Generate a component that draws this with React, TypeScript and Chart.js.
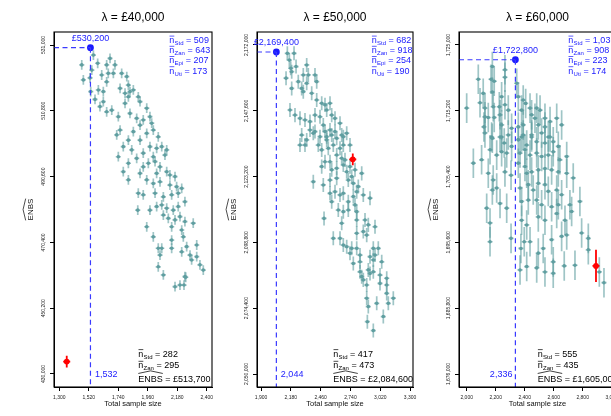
import React, { useEffect, useRef } from "react";
import { Chart, registerables } from "chart.js";

Chart.register(...registerables);

const FONT = '"Liberation Sans", Arial, Helvetica, sans-serif';
const TEAL = "#5F9EA0";
const TEAL_BAR = "rgba(95,158,160,0.6)";
const BLUE = "#1a1aff";
const DASH_BLUE = "#3a3aff";
const RED = "#ff0000";

// ---------------- Panel 1: λ = £40,000 ----------------
const p1Title = "λ = £40,000";
const p1XTicks = [1300, 1520, 1740, 1960, 2180, 2400];
const p1YTicks = [430000, 450200, 470400, 490600, 510800, 531000];
const p1XRange = [1260, 2439];
const p1YRange = [426000, 535000];
const p1ErrHalf = 1500;
const p1Optimum = [1532, 530200];
const p1Red = [1355, 433800];
const p1RedErr = 1800;
const p1TopLegend = [["Std", "509"], ["Zan", "643"], ["Epi", "207"], ["Uti", "173"]];
const p1BottomN = [["Std", "282"], ["Zan", "295"]];
const p1BottomEnbs = "£513,700";
const p1Points: number[][] = [
  [1467,524900],[1479,520300],[1554,527900],[1586,525400],[1542,523300],[1529,520900],[1534,516700],[1566,514300],[1591,517200],[1616,521800],[1603,512100],[1628,513600],
  [1678,526900],[1653,524900],[1715,524900],[1665,522300],[1703,522300],[1628,516700],[1653,519700],[1765,522300],[1803,521300],[1753,517700],[1815,518700],[1827,516700],[1790,516200],[1815,515100],[1852,517200],[1889,515100],[1902,513600],[1790,513100],[1653,510500],[1691,511000],[1740,509000],[1827,510000],[1877,508500],[1952,511600],[1926,508000],[1976,509000],[1989,507000],[1902,506400],[1852,504400],[1753,504900],[1728,503400],[1815,501800],[1777,499800],[1740,496700],[1840,498800],[1902,501800],[1952,503900],[2001,504900],[2038,502800],[1976,499800],[1926,497800],[2026,499300],[2064,499800],[2101,498800],[2088,497200],[2001,496700],[1877,496200],
  [1815,494700],[1777,492100],[1815,489600],[1902,491600],[1926,493600],[1964,494700],[2014,495200],[2051,493600],[2026,491600],[2101,492100],[2125,491100],[2163,490600],[1952,489600],[2001,488500],[2051,489000],[2125,488000],[2175,487500],[2213,487000],[1889,485500],[1926,485000],[2014,485500],[2076,484400],[2138,485000],[2187,485500],[2237,482900],[1885,480300],[1976,480300],[2026,481400],[2064,481900],[2101,480900],[2150,480300],[2187,481400],[2076,478800],[2113,477800],[2163,477300],[2200,478300],[2237,476800],[2299,476300],[1952,475200],[2138,475200],[2213,474200],[2001,472100],[2138,471100],[2225,472100],[2038,468600],[2064,468600],[2138,468600],[2051,466500],[2213,467500],[2250,469100],[2325,469600],[2275,466500],[2287,465000],[2325,466000],[2076,460400],[2038,462900],[2237,459900],[2374,461900],[2349,463500],[2163,456800],[2200,457300],[2230,457300],[2243,459700]
];

// ---------------- Panel 2: λ = £50,000 ----------------
const p2Title = "λ = £50,000";
const p2XTicks = [1900, 2180, 2460, 2740, 3020, 3300];
const p2YTicks = [2050000, 2074400, 2098800, 2123200, 2147600, 2172000];
const p2XRange = [1862, 3328];
const p2YRange = [2045180, 2176820];
const p2ErrHalf = 2600;
const p2Optimum = [2044, 2169400];
const p2Red = [2762, 2129600];
const p2RedErr = 2200;
const p2TopLegend = [["Std", "682"], ["Zan", "918"], ["Epi", "254"], ["Uti", "190"]];
const p2BottomN = [["Std", "417"], ["Zan", "473"]];
const p2BottomEnbs = "£2,084,600";
const p2Points: number[][] = [
  [2147,2168900],[2210,2168900],[2166,2166400],[2179,2163400],[2229,2164000],[2135,2159700],[2188,2162100],[2329,2164600],[2297,2160900],[2344,2160900],[2407,2160900],[2188,2155900],[2250,2158400],[2282,2155900],[2329,2157800],[2297,2154700],[2423,2158400],[2376,2154100],[2423,2151600],[2470,2150400],[2501,2149800],[2517,2147900],[2172,2147900],[2219,2146000],[2266,2144800],[2313,2144200],[2360,2143600],[2407,2146000],[2454,2145400],[2548,2150400],[2564,2146000],[2595,2144800],[2642,2143000],[2485,2142300],[2407,2139900],[2360,2140500],[2548,2140500],[2595,2139900],[2517,2138000],[2673,2138000],
  [2282,2138600],[2329,2136800],[2266,2134900],[2313,2134900],[2391,2139300],[2454,2138000],[2501,2139900],[2517,2136800],[2564,2138600],[2611,2137400],[2658,2138600],[2705,2139300],[2438,2134900],[2470,2133100],[2532,2133700],[2579,2134900],[2642,2133700],[2673,2134900],[2736,2134900],[2611,2131200],[2658,2130000],[2689,2129400],[2548,2128700],[2501,2128700],[2470,2126900],[2564,2125700],[2611,2126300],[2673,2127500],[2736,2126900],[2783,2125700],[2846,2124400],[2705,2125000],[2391,2121300],[2485,2120100],[2548,2121900],[2611,2122600],[2752,2123200],[2720,2121900],[2767,2120700],[2799,2117600],[2814,2119500],[2548,2117000],[2595,2117600],[2642,2116400],[2673,2117000],[2767,2115800],[2861,2116400],[2924,2115200],[2564,2113900],[2626,2110800],[2673,2110200],[2720,2110800],[2783,2112700],[2799,2110200],[2720,2113900],[2492,2107700],[2658,2105900],[2799,2107100],[2877,2107100],[2908,2105300],[2971,2104600],[2799,2102200],[2861,2102800],[2893,2101500],[2579,2100300],[2642,2100300],[2673,2097800],[2705,2097200],[2752,2096600],[2799,2096600],[2955,2096600],[3002,2096600],[2736,2094800],[2830,2094100],[2924,2093500],[2971,2094100],[2955,2092300],[3034,2091600],[2767,2091000],[2830,2091600],[2908,2088600],[2955,2087900],[3018,2086700],[2846,2086100],[3081,2085500],
  [2830,2087900],[2861,2084900],[2893,2083000],[2924,2087300],[3018,2083600],[3081,2083000],[2893,2078100],[2987,2076200],[2908,2075000],[3081,2079900],[3096,2076200],[3143,2078100],[3049,2071300],[2899,2069400],[2955,2066100]
];

// ---------------- Panel 3: λ = £60,000 ----------------
const p3Title = "λ = £60,000";
const p3XTicks = [2000, 2200, 2400, 2600, 2800, 3000];
const p3YTicks = [1676000, 1685800, 1695600, 1705400, 1715200, 1725000];
const p3XRange = [1947, 3030];
const p3YRange = [1674064, 1726936];
const p3ErrHalf = 2200;
const p3Optimum = [2336, 1722800];
const p3Red = [2892, 1692100];
const p3RedErr = 2400;
const p3TopLegend = [["Std", "1,031"], ["Zan", "908"], ["Epi", "223"], ["Uti", "174"]];
const p3BottomN = [["Std", "555"], ["Zan", "435"]];
const p3BottomEnbs = "£1,605,000";
const p3Points: number[][] = [
  [2177,1721800],[2264,1721300],[2080,1719900],[2168,1719900],[2190,1719600],[2264,1720200],[2345,1719300],[2114,1717800],[2177,1718000],[2241,1717300],[2356,1717300],[2390,1716800],[2000,1715600],[2092,1716400],[2126,1715600],[2183,1715800],[2225,1715800],[2264,1716100],[2287,1715300],[2126,1714300],[2149,1714200],[2190,1714200],[2230,1714600],[2379,1715300],[2407,1716300],[2437,1715600],[2483,1715600],[2506,1715300],[2448,1714600],[2471,1714100],[2540,1714100],[2575,1713600],[2621,1714100],[2655,1713100],[2119,1712800],[2241,1713100],[2310,1712600],[2356,1712800],[2390,1713100],[2494,1713100],[2540,1712800],[2172,1711300],[2241,1711300],[2379,1711300],[2448,1711600],[2517,1711900],[2563,1711300],
  [2046,1707400],[2103,1707900],[2126,1711900],[2177,1711100],[2230,1711300],[2259,1710400],[2287,1711600],[2310,1709900],[2356,1710900],[2390,1711600],[2414,1710100],[2448,1711300],[2483,1710600],[2540,1710400],[2575,1711300],[2597,1710600],[2632,1709900],[2161,1709400],[2207,1708600],[2241,1709100],[2276,1708900],[2368,1708900],[2402,1709400],[2437,1708600],[2483,1708900],[2517,1708400],[2563,1708600],[2597,1709100],[2643,1707900],[2690,1708400],[2149,1705900],[2183,1704900],[2264,1706100],[2306,1705600],[2356,1707400],[2402,1706900],[2414,1705900],[2448,1706100],[2494,1706400],[2540,1706600],[2586,1706400],[2632,1706100],[2690,1705900],[2735,1705200],[2207,1703700],[2177,1703400],[2368,1703700],[2425,1704200],[2459,1703400],[2494,1704400],[2540,1704200],[2563,1703200],[2621,1703400],[2655,1702700],[2138,1700700],[2230,1701400],[2276,1700700],[2379,1701700],[2425,1701900],[2483,1701900],[2517,1701200],[2586,1700900],[2632,1701200],[2712,1701200],[2781,1701700],[2161,1698500],[2379,1698900],[2414,1698200],[2494,1699400],[2540,1698900],[2621,1699900],[2678,1698900],[2724,1700200],[2161,1695700],[2306,1696200],[2397,1695700],[2437,1695700],[2586,1696000],[2655,1696500],[2690,1696700],[2793,1697000],[2839,1696200],[2374,1694700],[2494,1694000],[2528,1694700],[2597,1692700],[2673,1692100],[2747,1692200],[2414,1692000],[2483,1691800],[2368,1691500],[2839,1694500],[2915,1691200],
  [2540,1691200],[2597,1691000],[2947,1689600]
];

// ---------------- layout ----------------
const CANVAS_W = 222;
const CANVAS_H = 416;

type Spec = {
  title: string;
  xTicks: number[];
  yTicks: number[];
  xRange: number[];
  yRange: number[];
  points: number[][];
  err: number;
  opt: number[];
  red: number[];
  redErr: number;
  topLegend: string[][];
  bottomN: string[][];
  bottomEnbs: string;
  canvasLeft: number;
  boxRight: number;
  legendDx: number;
  bottomDx: number;
  labelSide: "left" | "right";
};

const specs: Spec[] = [
  { title: p1Title, xTicks: p1XTicks, yTicks: p1YTicks, xRange: p1XRange, yRange: p1YRange, points: p1Points, err: p1ErrHalf, opt: p1Optimum, red: p1Red, redErr: p1RedErr, topLegend: p1TopLegend, bottomN: p1BottomN, bottomEnbs: p1BottomEnbs, canvasLeft: 0, boxRight: 212, legendDx: 115.3, bottomDx: 84.3, labelSide: "right" },
  { title: p2Title, xTicks: p2XTicks, yTicks: p2YTicks, xRange: p2XRange, yRange: p2YRange, points: p2Points, err: p2ErrHalf, opt: p2Optimum, red: p2Red, redErr: p2RedErr, topLegend: p2TopLegend, bottomN: p2BottomN, bottomEnbs: p2BottomEnbs, canvasLeft: 203, boxRight: 210, legendDx: 114.7, bottomDx: 76.3, labelSide: "right" },
  { title: p3Title, xTicks: p3XTicks, yTicks: p3YTicks, xRange: p3XRange, yRange: p3YRange, points: p3Points, err: p3ErrHalf, opt: p3Optimum, red: p3Red, redErr: p3RedErr, topLegend: p3TopLegend, bottomN: p3BottomN, bottomEnbs: p3BottomEnbs, canvasLeft: 405, boxRight: 211, legendDx: 109.3, bottomDx: 78.7, labelSide: "left" },
];

const fmt = (v: number) => Math.round(v).toLocaleString("en-US");

function drawNbar(ctx: CanvasRenderingContext2D, x: number, base: number, sub: string, val: string, color: string) {
  ctx.fillStyle = color;
  ctx.strokeStyle = color;
  ctx.textAlign = "left";
  ctx.textBaseline = "alphabetic";
  ctx.font = `9px ${FONT}`;
  ctx.fillText("n", x, base);
  const wn = ctx.measureText("n").width;
  ctx.lineWidth = 0.7;
  ctx.beginPath();
  ctx.moveTo(x + 0.2, base - 6.9);
  ctx.lineTo(x + wn, base - 6.9);
  ctx.stroke();
  ctx.font = `6px ${FONT}`;
  ctx.fillText(sub, x + wn + 0.3, base + 2);
  const ws = ctx.measureText(sub).width;
  ctx.font = `9px ${FONT}`;
  ctx.fillText(" = " + val, x + wn + 0.3 + ws, base);
}

function drawHatText(ctx: CanvasRenderingContext2D, x: number, base: number, size: number, align: "left" | "center") {
  ctx.font = `${size}px ${FONT}`;
  const w = ctx.measureText("ENBS").width;
  const x0 = align === "center" ? x - w / 2 : x;
  ctx.textAlign = "left";
  ctx.textBaseline = "alphabetic";
  ctx.fillText("ENBS", x0, base);
  const cap = size * 0.716;
  ctx.lineWidth = 0.75;
  ctx.beginPath();
  ctx.moveTo(x0, base - cap - 1.6);
  ctx.lineTo(x0 + w / 2, base - cap - 4.2);
  ctx.lineTo(x0 + w, base - cap - 1.6);
  ctx.stroke();
  return w;
}

function decorPlugin(s: Spec) {
  return {
    id: "decor",
    beforeDatasetsDraw(chart: any) {
      const { ctx, chartArea: a } = chart;
      const xs = chart.scales.x;
      const ys = chart.scales.y;
      ctx.save();
      ctx.beginPath();
      ctx.rect(a.left, a.top, a.right - a.left, a.bottom - a.top);
      ctx.clip();
      ctx.strokeStyle = TEAL_BAR;
      ctx.lineWidth = 1.7;
      for (const [n, e] of s.points) {
        const px = xs.getPixelForValue(n);
        const py = ys.getPixelForValue(e);
        ctx.beginPath();
        ctx.moveTo(px, ys.getPixelForValue(e + s.err));
        ctx.lineTo(px, ys.getPixelForValue(e - s.err));
        ctx.moveTo(px - 2.6, py);
        ctx.lineTo(px + 2.6, py);
        ctx.stroke();
      }
      const rx = xs.getPixelForValue(s.red[0]);
      const ry = ys.getPixelForValue(s.red[1]);
      ctx.strokeStyle = RED;
      ctx.lineWidth = 1.8;
      ctx.beginPath();
      ctx.moveTo(rx, ys.getPixelForValue(s.red[1] + s.redErr));
      ctx.lineTo(rx, ys.getPixelForValue(s.red[1] - s.redErr));
      ctx.moveTo(rx - 3.5, ry);
      ctx.lineTo(rx + 3.5, ry);
      ctx.stroke();
      ctx.restore();
    },
    afterDatasetsDraw(chart: any) {
      const { ctx, chartArea: a } = chart;
      const xs = chart.scales.x;
      const ys = chart.scales.y;
      const ox = xs.getPixelForValue(s.opt[0]);
      const oy = ys.getPixelForValue(s.opt[1]);
      ctx.save();
      ctx.strokeStyle = DASH_BLUE;
      ctx.lineWidth = 1.2;
      ctx.setLineDash([5, 3.5]);
      ctx.beginPath();
      ctx.moveTo(a.left, oy);
      ctx.lineTo(ox, oy);
      ctx.stroke();
      ctx.beginPath();
      ctx.moveTo(ox, oy);
      ctx.lineTo(ox, a.bottom);
      ctx.stroke();
      ctx.setLineDash([]);
      ctx.restore();
    },
    afterDraw(chart: any) {
      const { ctx, chartArea: a } = chart;
      const xs = chart.scales.x;
      const ys = chart.scales.y;
      ctx.save();
      ctx.strokeStyle = "#000";
      ctx.lineWidth = 1.1;
      ctx.strokeRect(a.left, a.top, a.right - a.left, a.bottom - a.top);
      ctx.fillStyle = "#222";
      ctx.font = `5px ${FONT}`;
      ctx.textAlign = "center";
      ctx.textBaseline = "middle";
      for (const v of s.yTicks) {
        const py = ys.getPixelForValue(v);
        ctx.save();
        ctx.translate(a.left - 10.5, py);
        ctx.rotate(-Math.PI / 2);
        ctx.fillText(fmt(v), 0, 0);
        ctx.restore();
      }
      const cx = (a.left + a.right) / 2;
      ctx.fillStyle = "#000";
      ctx.font = `12px ${FONT}`;
      ctx.textAlign = "center";
      ctx.textBaseline = "alphabetic";
      ctx.fillText(s.title, cx, 21);
      ctx.font = `7.5px ${FONT}`;
      ctx.fillStyle = "#111";
      ctx.fillText("Total sample size", cx, 406);
      ctx.save();
      ctx.translate(a.left - 21, (a.top + a.bottom) / 2);
      ctx.rotate(-Math.PI / 2);
      ctx.fillStyle = "#111";
      ctx.strokeStyle = "#111";
      drawHatText(ctx, 0, 0, 8, "center");
      ctx.restore();
      const ox = xs.getPixelForValue(s.opt[0]);
      const oy = ys.getPixelForValue(s.opt[1]);
      ctx.fillStyle = BLUE;
      ctx.font = `9px ${FONT}`;
      ctx.textAlign = "center";
      ctx.fillText("£" + fmt(s.opt[1]), ox, oy - 7);
      if (s.labelSide === "right") {
        ctx.textAlign = "left";
        ctx.fillText(fmt(s.opt[0]), ox + 4.5, a.bottom - 9.8);
      } else {
        ctx.textAlign = "right";
        ctx.fillText(fmt(s.opt[0]), ox - 3, a.bottom - 9.8);
      }
      const lx = a.left + s.legendDx;
      s.topLegend.forEach(([sub, val], i) => {
        drawNbar(ctx, lx, a.top + 11 + i * 10.2, sub, val, BLUE);
      });
      const bx = a.left + s.bottomDx;
      s.bottomN.forEach(([sub, val], i) => {
        drawNbar(ctx, bx, a.bottom - 30.5 + i * 11.7, sub, val, "#000");
      });
      ctx.fillStyle = "#000";
      ctx.strokeStyle = "#000";
      const w = drawHatText(ctx, bx, a.bottom - 5.5, 9, "left");
      ctx.font = `9px ${FONT}`;
      ctx.textAlign = "left";
      ctx.fillText(" = " + s.bottomEnbs, bx + w, a.bottom - 5.5);
      ctx.restore();
    },
  };
}

function buildConfig(s: Spec): any {
  return {
    type: "scatter",
    data: {
      datasets: [
        { data: s.points.map(([n, e]) => ({ x: n, y: e })), backgroundColor: TEAL, borderWidth: 0, pointRadius: 1.8, pointHoverRadius: 1.8 },
        { data: [{ x: s.red[0], y: s.red[1] }], backgroundColor: RED, borderWidth: 0, pointRadius: 2.9, pointHoverRadius: 2.9 },
        { data: [{ x: s.opt[0], y: s.opt[1] }], backgroundColor: BLUE, borderWidth: 0, pointRadius: 3.4, pointHoverRadius: 3.4 },
      ],
    },
    options: {
      responsive: false,
      maintainAspectRatio: false,
      animation: false,
      devicePixelRatio: 1,
      events: [],
      layout: { padding: { left: 0, top: 32, right: CANVAS_W - s.boxRight, bottom: 0 } },
      plugins: { legend: { display: false }, tooltip: { enabled: false }, title: { display: false } },
      scales: {
        x: {
          type: "linear",
          min: s.xRange[0],
          max: s.xRange[1],
          afterBuildTicks: (sc: any) => {
            sc.ticks = s.xTicks.map((v) => ({ value: v }));
          },
          afterFit: (sc: any) => {
            sc.height = 29;
          },
          ticks: {
            autoSkip: false,
            maxRotation: 0,
            minRotation: 0,
            padding: 4,
            color: "#222",
            font: { family: FONT, size: 5 },
            callback: (v: any) => fmt(Number(v)),
          },
          grid: { display: true, drawOnChartArea: false, drawTicks: true, tickLength: 4, color: "#000", lineWidth: 1 },
          border: { display: true, color: "#000", width: 1 },
        },
        y: {
          type: "linear",
          min: s.yRange[0],
          max: s.yRange[1],
          afterBuildTicks: (sc: any) => {
            sc.ticks = s.yTicks.map((v) => ({ value: v }));
          },
          afterFit: (sc: any) => {
            sc.width = 54;
          },
          ticks: { display: false, autoSkip: false },
          grid: { display: true, drawOnChartArea: false, drawTicks: true, tickLength: 4, color: "#000", lineWidth: 1 },
          border: { display: true, color: "#000", width: 1 },
        },
      },
    },
    plugins: [decorPlugin(s)],
  };
}

function Panel({ spec }: { spec: Spec }) {
  const ref = useRef<HTMLCanvasElement>(null);
  useEffect(() => {
    const canvas = ref.current;
    if (!canvas) return;
    const chart = new Chart(canvas, buildConfig(spec));
    return () => chart.destroy();
  }, [spec]);
  return (
    <canvas
      ref={ref}
      width={CANVAS_W}
      height={CANVAS_H}
      style={{ position: "absolute", left: spec.canvasLeft, top: 0, width: CANVAS_W, height: CANVAS_H }}
    />
  );
}

export default function App() {
  return (
    <div style={{ position: "fixed", left: 0, top: 0, width: 611, height: 416, overflow: "hidden", background: "#fff" }}>
      {specs.map((s, i) => (
        <Panel key={i} spec={s} />
      ))}
    </div>
  );
}
